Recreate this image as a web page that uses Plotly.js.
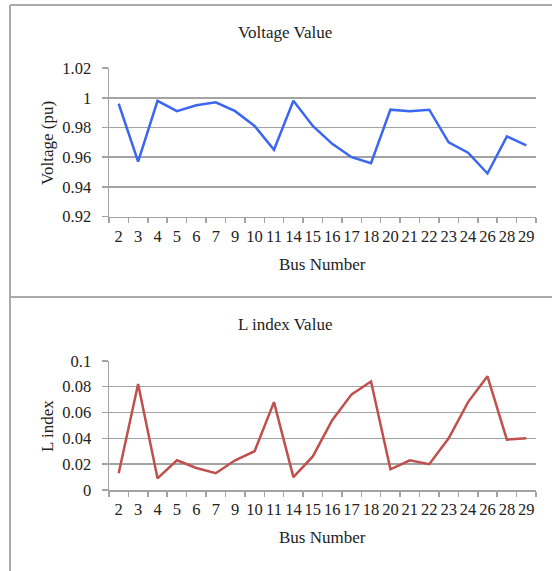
<!DOCTYPE html>
<html>
<head>
<meta charset="utf-8">
<script src="https://cdn.plot.ly/plotly-3.0.1.min.js"></script>
<style>html,body{margin:0;padding:0;background:#fff;}#chart{width:552px;height:571px;}</style>
</head>
<body>
<div id="chart"></div>
<script>
var busNumbers = ["2","3","4","5","6","7","9","10","11","14","15","16","17","18","20","21","22","23","24","26","28","29"];
var voltageValues = [0.996,0.957,0.998,0.991,0.995,0.997,0.991,0.981,0.965,0.998,0.981,0.969,0.960,0.956,0.992,0.991,0.992,0.970,0.963,0.949,0.974,0.968];
var lIndexValues = [0.013,0.082,0.009,0.023,0.017,0.013,0.023,0.030,0.068,0.010,0.026,0.054,0.074,0.084,0.016,0.023,0.020,0.040,0.068,0.088,0.039,0.040];

var W = 552, H = 571;
function px(x){return x/W;}
function py(y){return 1 - y/H;}
var gray = '#a3a3a3';
var fontFam = 'Liberation Serif, Times New Roman, serif';

var xCommon = {
  type:'category', range:[-0.5,21.5], showline:true, linecolor:gray, linewidth:1.5,
  tickmode:'linear', tick0:0, dtick:1, tickangle:0,
  ticks:'outside', tickson:'boundaries', ticklen:5, tickcolor:gray, tickwidth:1.5,
  showgrid:false, zeroline:false, fixedrange:true, ticklabelstandoff:4,
  tickfont:{family:fontFam, size:16.5, color:'#222'}
};
var yCommon = {
  showline:true, linecolor:gray, linewidth:1.5, ticks:'outside', ticklen:6,
  tickcolor:gray, tickwidth:1.5, showgrid:true, gridcolor:gray, gridwidth:1.5,
  zeroline:false, fixedrange:true, ticklabelstandoff:7,
  tickfont:{family:fontFam, size:16.5, color:'#222'}
};

var traces = [
  {x:busNumbers, y:voltageValues, type:'scatter', mode:'lines', xaxis:'x', yaxis:'y',
   line:{color:'#3b66f2', width:2.5}, hoverinfo:'skip'},
  {x:busNumbers, y:lIndexValues, type:'scatter', mode:'lines', xaxis:'x2', yaxis:'y2',
   line:{color:'#c0504d', width:2.5}, hoverinfo:'skip'}
];

var layout = {
  width:W, height:H, margin:{l:0,r:0,t:0,b:0},
  paper_bgcolor:'#fff', plot_bgcolor:'#fff', showlegend:false,
  font:{family:fontFam, color:'#222'},
  xaxis: Object.assign({}, xCommon, {domain:[px(109), px(536)], anchor:'y'}),
  yaxis: Object.assign({}, yCommon, {domain:[py(216.5), py(68)], range:[0.92,1.0201], dtick:0.02, tick0:0.92, anchor:'x'}),
  xaxis2: Object.assign({}, xCommon, {domain:[px(109), px(536)], anchor:'y2'}),
  yaxis2: Object.assign({}, yCommon, {domain:[py(490), py(360.5)], range:[0,0.1002], dtick:0.02, tick0:0, anchor:'x2'}),
  annotations:[
    {text:'Voltage Value', x:px(285), y:py(32), xref:'paper', yref:'paper', showarrow:false, xanchor:'center', yanchor:'middle', font:{family:fontFam, size:17, color:'#222'}},
    {text:'Bus Number', x:px(322.5), y:py(265), xref:'paper', yref:'paper', showarrow:false, xanchor:'center', yanchor:'middle', font:{family:fontFam, size:17, color:'#222'}},
    {text:'Voltage (pu)', x:px(47), y:py(143), xref:'paper', yref:'paper', showarrow:false, textangle:-90, xanchor:'center', yanchor:'middle', font:{family:fontFam, size:17, color:'#222'}},
    {text:'L index Value', x:px(285), y:py(324), xref:'paper', yref:'paper', showarrow:false, xanchor:'center', yanchor:'middle', font:{family:fontFam, size:17, color:'#222'}},
    {text:'Bus Number', x:px(322.5), y:py(537), xref:'paper', yref:'paper', showarrow:false, xanchor:'center', yanchor:'middle', font:{family:fontFam, size:17, color:'#222'}},
    {text:'L index', x:px(47), y:py(426), xref:'paper', yref:'paper', showarrow:false, textangle:-90, xanchor:'center', yanchor:'middle', font:{family:fontFam, size:17, color:'#222'}}
  ],
  shapes:[
    {type:'line', xref:'paper', yref:'paper', x0:px(10), x1:1, y0:py(5), y1:py(5), line:{color:'#ababab', width:2}},
    {type:'line', xref:'paper', yref:'paper', x0:px(10), x1:px(10), y0:py(5), y1:0, line:{color:'#ababab', width:2}},
    {type:'line', xref:'paper', yref:'paper', x0:px(10), x1:1, y0:py(297), y1:py(297), line:{color:'#ababab', width:2}}
  ]
};

Plotly.newPlot('chart', traces, layout, {staticPlot:true, displayModeBar:false});
</script>
</body>
</html>
